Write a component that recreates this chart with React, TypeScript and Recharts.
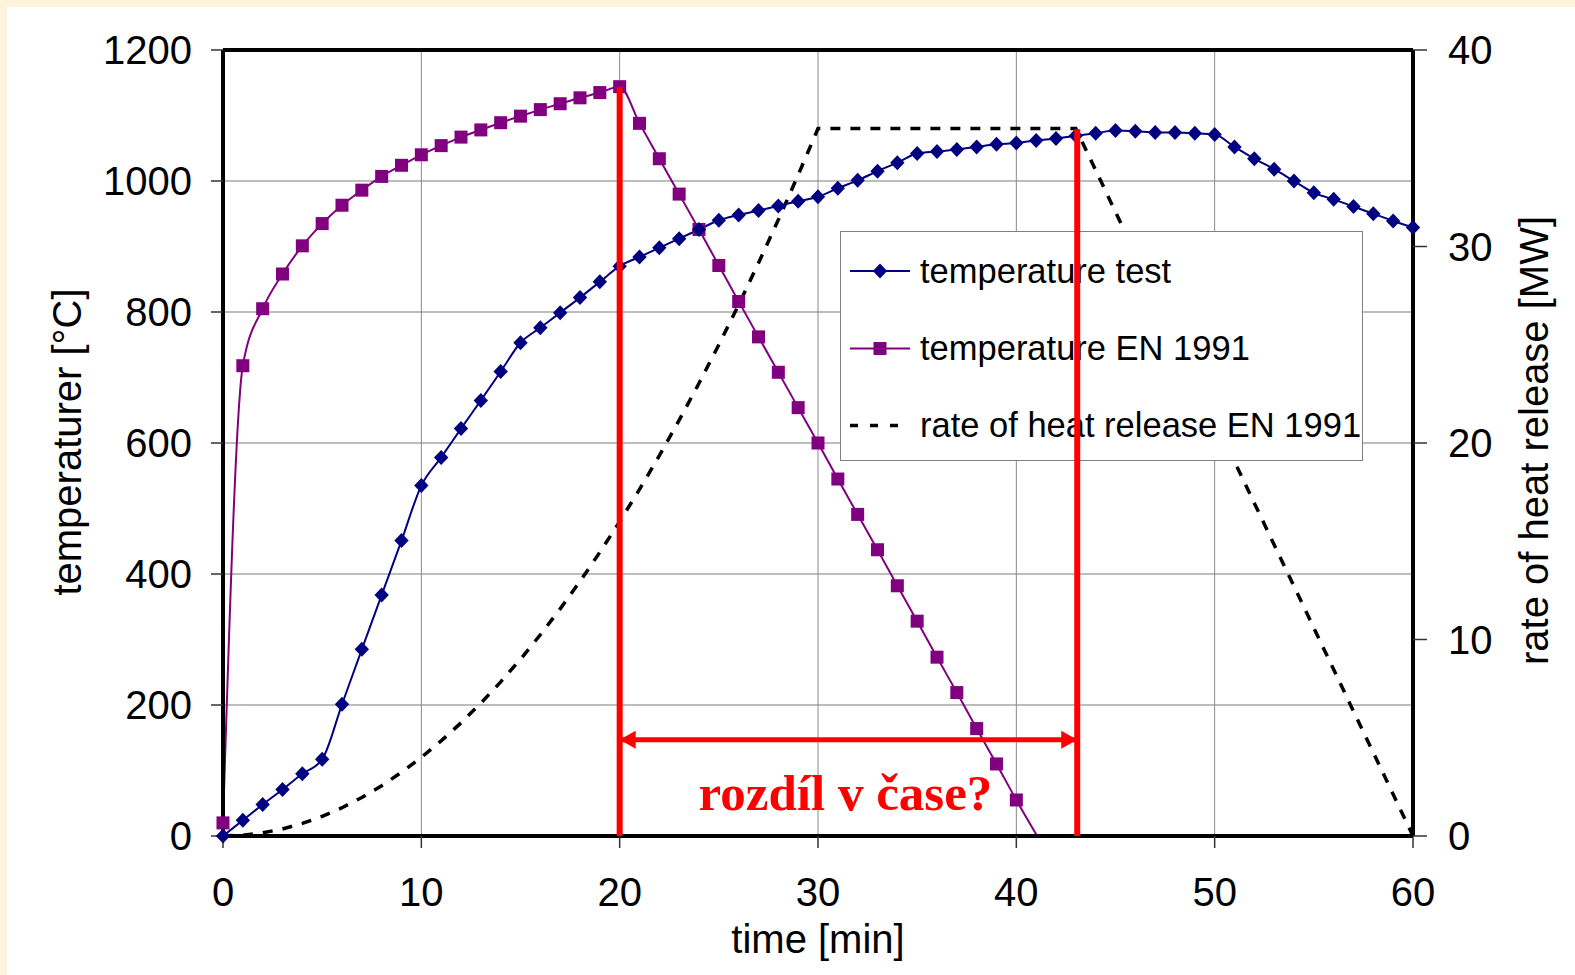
import React from 'react';
import { LineChart, Line, XAxis, YAxis, CartesianGrid, ReferenceLine, Legend } from 'recharts';

// ---------- data ----------
const minutes = [
  0, 1, 2, 3, 4, 5, 6, 7, 8, 9, 10, 11, 12, 13, 14, 15, 16, 17, 18, 19, 20,
  21, 22, 23, 24, 25, 26, 27, 28, 29, 30, 31, 32, 33, 34, 35, 36, 37, 38, 39, 40,
  41, 42, 43, 44, 45, 46, 47, 48, 49, 50, 51, 52, 53, 54, 55, 56, 57, 58, 59, 60,
];

const testTemperature = [
  0, 24, 48, 71, 95, 117, 201, 285, 368, 451, 535, 578, 622, 665, 709, 753, 776, 799, 822, 846, 870,
  884, 898, 912, 926, 940, 948, 955, 962, 969, 976, 989, 1001, 1015, 1028, 1042, 1045, 1048, 1052, 1056, 1058,
  1062, 1065, 1069, 1073, 1077, 1076, 1074, 1074, 1073, 1071, 1052, 1034, 1018, 1000, 982, 972, 961, 950, 939, 929,
];

const enTimes = [
  0, 1, 2, 3, 4, 5, 6, 7, 8, 9, 10, 11, 12, 13, 14, 15, 16, 17, 18, 19, 20,
  21, 22, 23, 24, 25, 26, 27, 28, 29, 30, 31, 32, 33, 34, 35, 36, 37, 38, 39, 40, 41.05,
];
const enTemperature = [
  20, 718, 805, 858, 901, 935, 963, 986, 1007, 1024, 1040, 1054, 1067, 1078, 1089, 1099, 1109, 1118, 1127, 1135, 1144,
  1088, 1034, 980, 926, 871, 816, 762, 708, 654, 600, 545, 491, 437, 382, 328, 273, 219, 164, 110, 55, 0,
];

const heatRelease = [
  0, 0.04, 0.16, 0.36, 0.64, 1, 1.44, 1.96, 2.56, 3.24, 4, 4.84, 5.76, 6.76, 7.84, 9, 10.24, 11.56, 12.96, 14.44, 16,
  17.64, 19.36, 21.16, 23.04, 25, 27.04, 29.16, 31.36, 33.64, 36, 36, 36, 36, 36, 36, 36, 36, 36, 36, 36,
  36, 36, 36, 33.88, 31.76, 29.65, 27.53, 25.41, 23.29, 21.18, 19.06, 16.94, 14.82, 12.71, 10.59, 8.47, 6.35, 4.24, 2.12, 0,
];

const timeTicks = [0, 10, 20, 30, 40, 50, 60];
const tempTicks = [0, 200, 400, 600, 800, 1000, 1200];
const hrrTicks = [0, 10, 20, 30, 40];

const seriesNames = ['temperature test', 'temperature EN 1991', 'rate of heat release EN 1991'];
const axisTitles = { x: 'time [min]', left: 'temperaturer [°C]', right: 'rate of heat release [MW]' };

// annotation: vertical markers and the time-difference arrow
const markTimes = [20, 43.07];
const markTemps = [1143.5, 1079];
const arrowTemp = 147;
const annotationText = 'rozdíl v čase?';

// ---------- rows ----------
const testRows = minutes.map((t, i) => ({ t, temp: testTemperature[i] }));
const enRows = enTimes.map((t, i) => ({ t, temp: enTemperature[i] }));
const hrrRows = minutes.map((t, i) => ({ t, hrr: heatRelease[i] }));
const markRows = markTimes.map((t, i) => [
  { t, v: 0 },
  { t, v: markTemps[i] },
]);
const arrowRows = [
  { t: markTimes[0], v: arrowTemp },
  { t: markTimes[1], v: arrowTemp },
];

// ---------- styles ----------
const NAVY = '#000080';
const PURPLE = '#800080';
const RED = '#FF0000';
const SANS = '"Liberation Sans", Arial, sans-serif';
const SERIF = '"Liberation Serif", "Times New Roman", serif';
const W = 1575;
const H = 975;
const MARGIN = { top: 50, right: 0, bottom: 0, left: 0 };
const LEFT_W = 223;
const RIGHT_W = 162;
const X_H = 139;

const tickStyle = { fill: '#000', fontSize: 40, fontFamily: SANS };
const tickLineStyle = { stroke: '#333', strokeWidth: 1.5 };
const axisLineStyle = { stroke: '#000', strokeWidth: 4 };

const diamondDot = (p: any) => {
  const { cx, cy, index } = p;
  if (cx == null || cy == null) return <g key={`dd${index}`} />;
  return (
    <path
      key={`dd${index}`}
      d={`M${cx},${cy - 7.5}L${cx + 7.2},${cy}L${cx},${cy + 7.5}L${cx - 7.2},${cy}Z`}
      fill={NAVY}
    />
  );
};

const squareDot = (p: any) => {
  const { cx, cy, index, payload } = p;
  if (cx == null || cy == null || !Number.isInteger(payload?.t)) return <g key={`sd${index}`} />;
  return <rect key={`sd${index}`} x={cx - 6.5} y={cy - 6.5} width={13} height={13} fill={PURPLE} />;
};

const arrowDot = (p: any) => {
  const { cx, cy, index, points } = p;
  if (cx == null || cy == null) return <g key={`ad${index}`} />;
  const head = 16;
  const half = 9;
  if (index === 0) {
    return (
      <polygon
        key={`ad${index}`}
        points={`${cx},${cy} ${cx + head},${cy - half} ${cx + head},${cy + half}`}
        fill={RED}
      />
    );
  }
  const startX = points && points[0] && points[0].x != null ? points[0].x : cx - 457;
  return (
    <g key={`ad${index}`}>
      <polygon points={`${cx},${cy} ${cx - head},${cy - half} ${cx - head},${cy + half}`} fill={RED} />
      <text
        x={(startX + cx) / 2 - 3}
        y={cy + 70}
        textAnchor="middle"
        fontFamily={SERIF}
        fontWeight="bold"
        fontSize={51}
        fill={RED}
      >
        {annotationText}
      </text>
    </g>
  );
};

const LegendBox = () => {
  const rows = [40, 117.5, 194.5];
  return (
    <div
      style={{
        width: 523,
        height: 230,
        boxSizing: 'border-box',
        border: '1.5px solid #7f7f7f',
        background: '#fff',
        position: 'relative',
      }}
    >
      <svg width={523} height={230} style={{ position: 'absolute', left: -1.5, top: -1.5 }}>
        <line x1={10} y1={rows[0]} x2={70} y2={rows[0]} stroke={NAVY} strokeWidth={2} />
        <path d={`M40,${rows[0] - 7.5}L47.2,${rows[0]}L40,${rows[0] + 7.5}L32.8,${rows[0]}Z`} fill={NAVY} />
        <line x1={10} y1={rows[1]} x2={70} y2={rows[1]} stroke={PURPLE} strokeWidth={2} />
        <rect x={33.5} y={rows[1] - 6.5} width={13} height={13} fill={PURPLE} />
        <line x1={10} y1={rows[2]} x2={70} y2={rows[2]} stroke="#000" strokeWidth={3.5} strokeDasharray="8 12" />
        {seriesNames.map((n, i) => (
          <text key={n} x={80} y={rows[i] + 11.5} fontSize={34.5} fontFamily={SANS} fill="#000">
            {n}
          </text>
        ))}
      </svg>
    </div>
  );
};

export default function App() {
  return (
    <div style={{ position: 'absolute', left: 0, top: 0, width: W, height: H, background: '#FFF4DB', overflow: 'hidden' }}>
      <style>{'body{margin:0}'}</style>
      <div style={{ position: 'absolute', left: 7, top: 7, right: 0, bottom: 0, background: '#fff' }} />
      <div style={{ position: 'absolute', left: 0, top: 0 }}>
        <LineChart width={W} height={H} margin={MARGIN}>
          <CartesianGrid yAxisId="left" vertical={false} stroke="#bdbdbd" strokeWidth={2} />
          <CartesianGrid yAxisId="left" horizontal={false} stroke="#8a8a8a" strokeWidth={1} />
          <XAxis
            dataKey="t"
            type="number"
            domain={[0, 60]}
            ticks={timeTicks}
            height={X_H}
            tick={tickStyle}
            tickLine={tickLineStyle}
            axisLine={axisLineStyle}
            tickSize={12}
            tickMargin={30}
            label={() => (
              <text x={818} y={953} textAnchor="middle" fontSize={40} fontFamily={SANS} fill="#000">
                {axisTitles.x}
              </text>
            )}
          />
          <YAxis
            yAxisId="left"
            orientation="left"
            type="number"
            domain={[0, 1200]}
            ticks={tempTicks}
            width={LEFT_W}
            tick={tickStyle}
            tickLine={tickLineStyle}
            axisLine={axisLineStyle}
            tickSize={12}
            tickMargin={19}
            label={() => (
              <text
                x={80.5}
                y={442}
                transform="rotate(-90, 80.5, 442)"
                textAnchor="middle"
                fontSize={40}
                fontFamily={SANS}
                fill="#000"
              >
                {axisTitles.left}
              </text>
            )}
          />
          <YAxis
            yAxisId="right"
            orientation="right"
            type="number"
            domain={[0, 40]}
            ticks={hrrTicks}
            width={RIGHT_W}
            tick={tickStyle}
            tickLine={tickLineStyle}
            axisLine={axisLineStyle}
            tickSize={14}
            tickMargin={21}
            label={() => (
              <text
                x={1547.5}
                y={440.5}
                transform="rotate(-90, 1547.5, 440.5)"
                textAnchor="middle"
                fontSize={40}
                fontFamily={SANS}
                fill="#000"
              >
                {axisTitles.right}
              </text>
            )}
          />
          <ReferenceLine yAxisId="left" y={1200} stroke="#000" strokeWidth={4} />
          <Line
            data={hrrRows}
            dataKey="hrr"
            yAxisId="right"
            type="linear"
            stroke="#000"
            strokeWidth={3.5}
            strokeDasharray="10 10"
            dot={false}
            activeDot={false}
            isAnimationActive={false}
            name={seriesNames[2]}
          />
          <Line
            data={enRows}
            dataKey="temp"
            yAxisId="left"
            type="monotone"
            stroke={PURPLE}
            strokeWidth={2}
            dot={squareDot}
            activeDot={false}
            isAnimationActive={false}
            name={seriesNames[1]}
          />
          <Line
            data={testRows}
            dataKey="temp"
            yAxisId="left"
            type="monotone"
            stroke={NAVY}
            strokeWidth={2}
            dot={diamondDot}
            activeDot={false}
            isAnimationActive={false}
            name={seriesNames[0]}
          />
          <Legend
            layout="horizontal"
            verticalAlign="middle"
            align="center"
            content={() => <LegendBox />}
            wrapperStyle={{ left: 840, top: 231, width: 523, height: 230 }}
          />
        </LineChart>
      </div>
      <div style={{ position: 'absolute', left: 0, top: 0, pointerEvents: 'none', zIndex: 5 }}>
        <LineChart width={W} height={H} margin={{ top: 50, right: RIGHT_W, bottom: X_H, left: LEFT_W }}>
          <XAxis
            dataKey="t"
            type="number"
            domain={[0, 60]}
            height={0}
            tick={false}
            tickLine={false}
            axisLine={false}
          />
          <YAxis
            dataKey="v"
            type="number"
            domain={[0, 1200]}
            width={0}
            tick={false}
            tickLine={false}
            axisLine={false}
          />
          {markRows.map((rows, i) => (
            <Line
              key={`mark${i}`}
              data={rows}
              dataKey="v"
              type="linear"
              stroke={RED}
              strokeWidth={6}
              dot={false}
              activeDot={false}
              legendType="none"
              isAnimationActive={false}
            />
          ))}
          <Line
            data={arrowRows}
            dataKey="v"
            type="linear"
            stroke={RED}
            strokeWidth={5}
            dot={arrowDot}
            activeDot={false}
            legendType="none"
            isAnimationActive={false}
          />
        </LineChart>
      </div>
    </div>
  );
}
